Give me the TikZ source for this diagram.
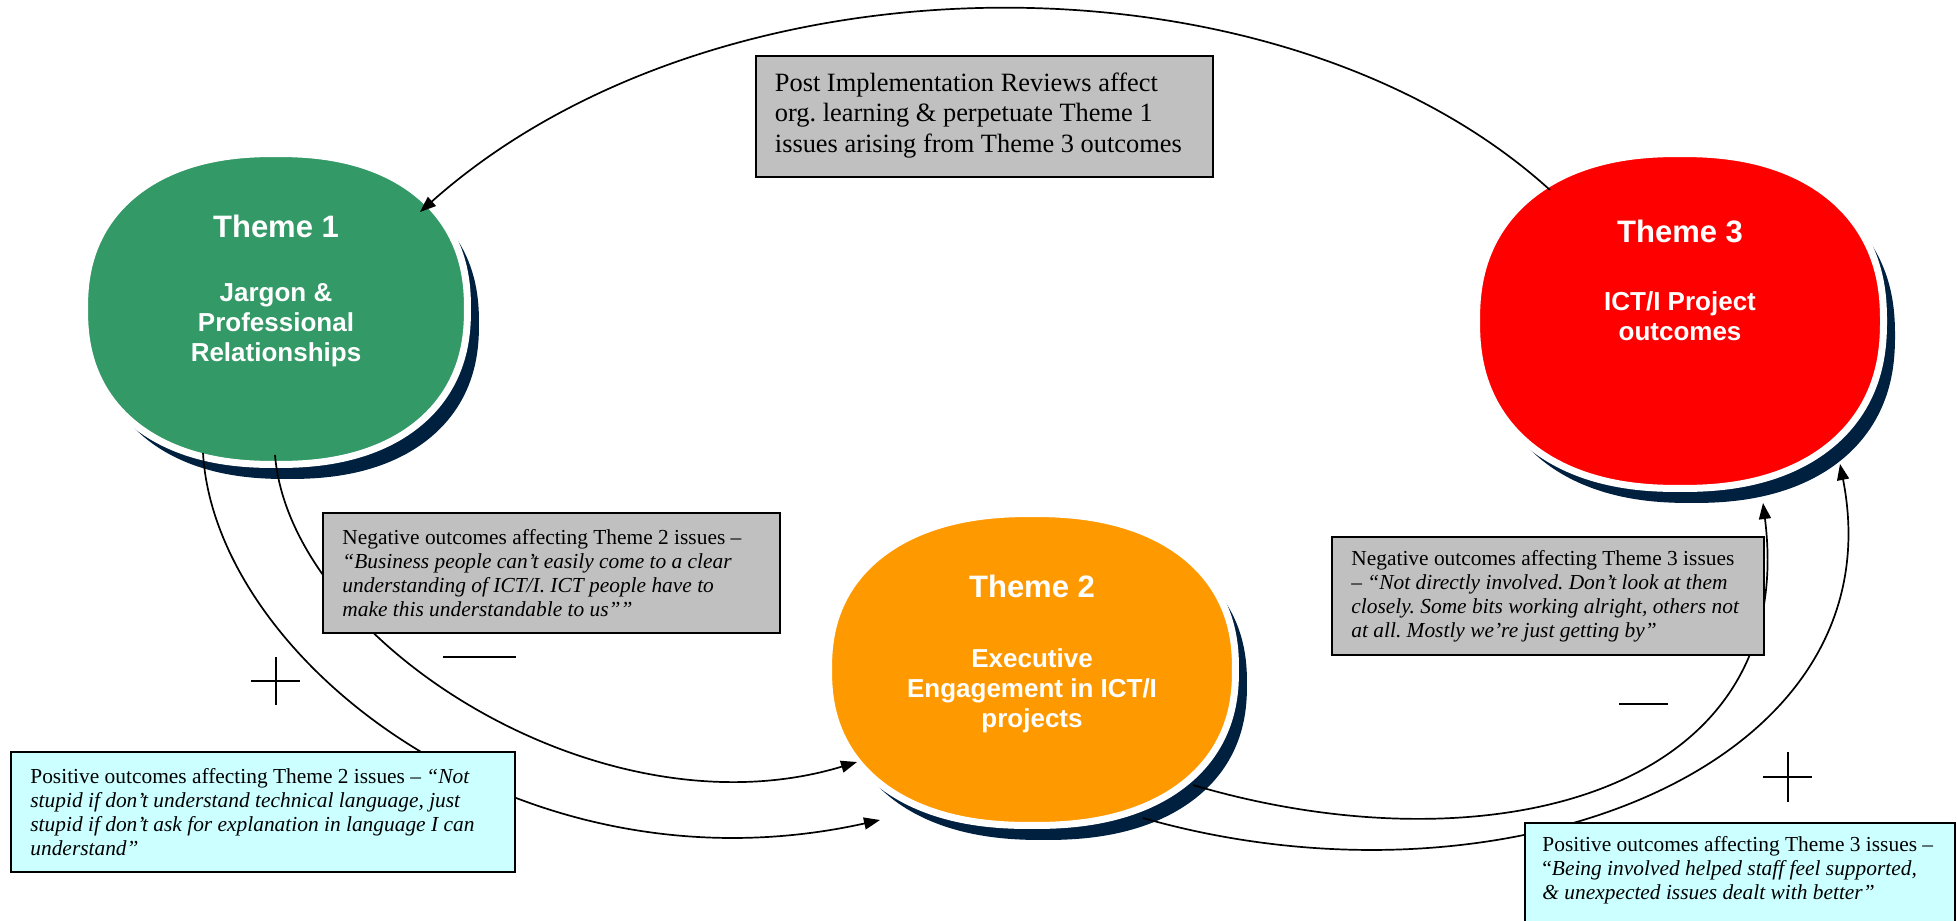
\documentclass[tikz,border=0pt]{standalone}
\usepackage{fontspec}
\setmainfont{Liberation Serif}
\setsansfont{Liberation Sans}
\usetikzlibrary{arrows.meta,calc}

\definecolor{themegreen}{HTML}{339966}
\definecolor{themeorange}{HTML}{FF9900}
\definecolor{themered}{HTML}{FF0000}
\definecolor{shadownavy}{HTML}{002040}
\definecolor{notegray}{HTML}{C0C0C0}
\definecolor{notecyan}{HTML}{CCFFFF}

% superellipse outline (exponent 2.3): centre x, centre y, half width, half height
\newcommand\blobpath[4]{plot[domain=0.75:360.75, samples=241]
  ({#1+#3*cos(\x)*abs(cos(\x))^(-0.13)}, {#2+#4*sin(\x)*abs(sin(\x))^(-0.13)}) -- cycle}

% blob with white rim and navy drop shadow
\newcommand\themeblob[5]{%
  \fill[shadownavy, shift={(11.5,14.5)}] \blobpath{#1}{#2}{#3}{#4};
  \filldraw[fill=#5, draw=white, line width=3.5pt] \blobpath{#1}{#2}{#3}{#4};
}

\begin{document}
\frenchspacing
\begin{tikzpicture}[x=0.5pt,y=-0.5pt,
  themearea/.style={rectangle, inner sep=0pt},
  titletext/.style={anchor=base, text=white, inner sep=0pt,
    font=\sffamily\bfseries\fontsize{15.5}{18}\selectfont},
  bodytext/.style={anchor=base, text=white, inner sep=0pt, align=center,
    font=\sffamily\bfseries\fontsize{13}{15}\selectfont},
  notebox/.style={draw=black, line width=1pt, inner sep=0pt},
  notetext/.style={anchor=west, align=left, inner sep=0pt,
    font=\fontsize{10.7}{12}\selectfont},
  conn/.style={line width=0.85pt, -{Triangle[length=8pt,width=6pt]}},
  sign/.style={line width=1.1pt}]

\useasboundingbox (0,0) rectangle (1957,920);

% ---- theme blobs ----
\themeblob{276}{309}{191.5}{155.5}{themegreen}
\themeblob{1032}{669.5}{203.5}{156}{themeorange}
\themeblob{1680}{321}{203.5}{167.5}{themered}

\node[themearea, minimum width=188pt, minimum height=152pt] (t1) at (276,309) {};
\node[themearea, minimum width=200pt, minimum height=152.5pt] (t2) at (1032,669.5) {};
\node[themearea, minimum width=200pt, minimum height=164pt] (t3) at (1680,321) {};

% body nodes are placed by the baseline of their last line
\node[titletext] (t1title) at (276,237) {Theme 1};
\node[bodytext] (t1body) at (276,361) {Jargon \&\\Professional\\Relationships};
\node[titletext] (t2title) at (1032,597) {Theme 2};
\node[bodytext] (t2body) at (1032,727) {Executive\\Engagement in ICT/I\\projects};
\node[titletext] (t3title) at (1680,242) {Theme 3};
\node[bodytext] (t3body) at (1680,340) {ICT/I Project\\outcomes};

% ---- connectors ----
\draw[conn] ($(t3.center)+(-130,-131)$) .. controls +(-270,-245) and +(300,-267) .. ($(t1.center)+(144,-97)$);
\draw[conn] ($(t1.center)+(-1,146)$) .. controls +(15,185) and +(-257,78) .. ($(t2.center)+(-175,92.5)$);
\draw[conn] ($(t1.center)+(-73,144)$) .. controls +(12,207) and +(-360,80) .. ($(t2.center)+(-152,150.5)$);
\draw[conn] ($(t2.center)+(161,115.5)$) .. controls +(287,85) and +(37,297) .. ($(t3.center)+(83,182)$);
\draw[conn] ($(t2.center)+(111,148.5)$) .. controls +(357,102) and +(60,306) .. ($(t3.center)+(160,143)$);

% ---- note boxes ----
\node[notebox, fill=notegray, minimum width=228.5pt, minimum height=60.5pt] (pir) at (984,116.5) {};
\node[notetext, font=\fontsize{13.2}{15.3}\selectfont] (pirtext) at ($(pir.west)+(20,-1)$)
  {Post Implementation Reviews affect\\org. learning \& perpetuate Theme 1\\issues arising from Theme 3 outcomes};

\node[notebox, fill=notegray, minimum width=228.5pt, minimum height=60pt] (neg2) at (551.5,573) {};
\node[notetext] (neg2text) at ($(neg2.west)+(20,0)$)
  {Negative outcomes affecting Theme 2 issues –\\
   \textit{“Business people can’t easily come to a clear}\\
   \textit{understanding of ICT/I. ICT people have to}\\
   \textit{make this understandable to us””}};

\node[notebox, fill=notecyan, minimum width=252pt, minimum height=60pt] (pos2) at (263,812) {};
\node[notetext] (pos2text) at ($(pos2.west)+(20,0)$)
  {Positive outcomes affecting Theme 2 issues – \textit{“Not}\\
   \textit{stupid if don’t understand technical language, just}\\
   \textit{stupid if don’t ask for explanation in language I can}\\
   \textit{understand”}};

\node[notebox, fill=notegray, minimum width=216pt, minimum height=59pt] (neg3) at (1548,596) {};
\node[notetext] (neg3text) at ($(neg3.west)+(20,0)$)
  {Negative outcomes affecting Theme 3 issues\\
   – \textit{“Not directly involved. Don’t look at them}\\
   \textit{closely. Some bits working alright, others not}\\
   \textit{at all. Mostly we’re just getting by”}};

\node[notebox, fill=notecyan, minimum width=215pt, minimum height=50pt] (pos3) at (1740,873) {};
\node[notetext] (pos3text) at ($(pos3.west)+(18,-2.5)$)
  {Positive outcomes affecting Theme 3 issues –\\
   “\textit{Being involved helped staff feel supported,}\\
   \textit{\& unexpected issues dealt with better”}};

% ---- plus / minus marks ----
\draw[sign] (443,657) -- (516,657);
\draw[sign] (251,681) -- (300,681) (276,657) -- (276,705);
\draw[sign] (1619,704) -- (1668,704);
\draw[sign] (1763,777) -- (1812,777) (1788,752) -- (1788,802);

\end{tikzpicture}
\end{document}
